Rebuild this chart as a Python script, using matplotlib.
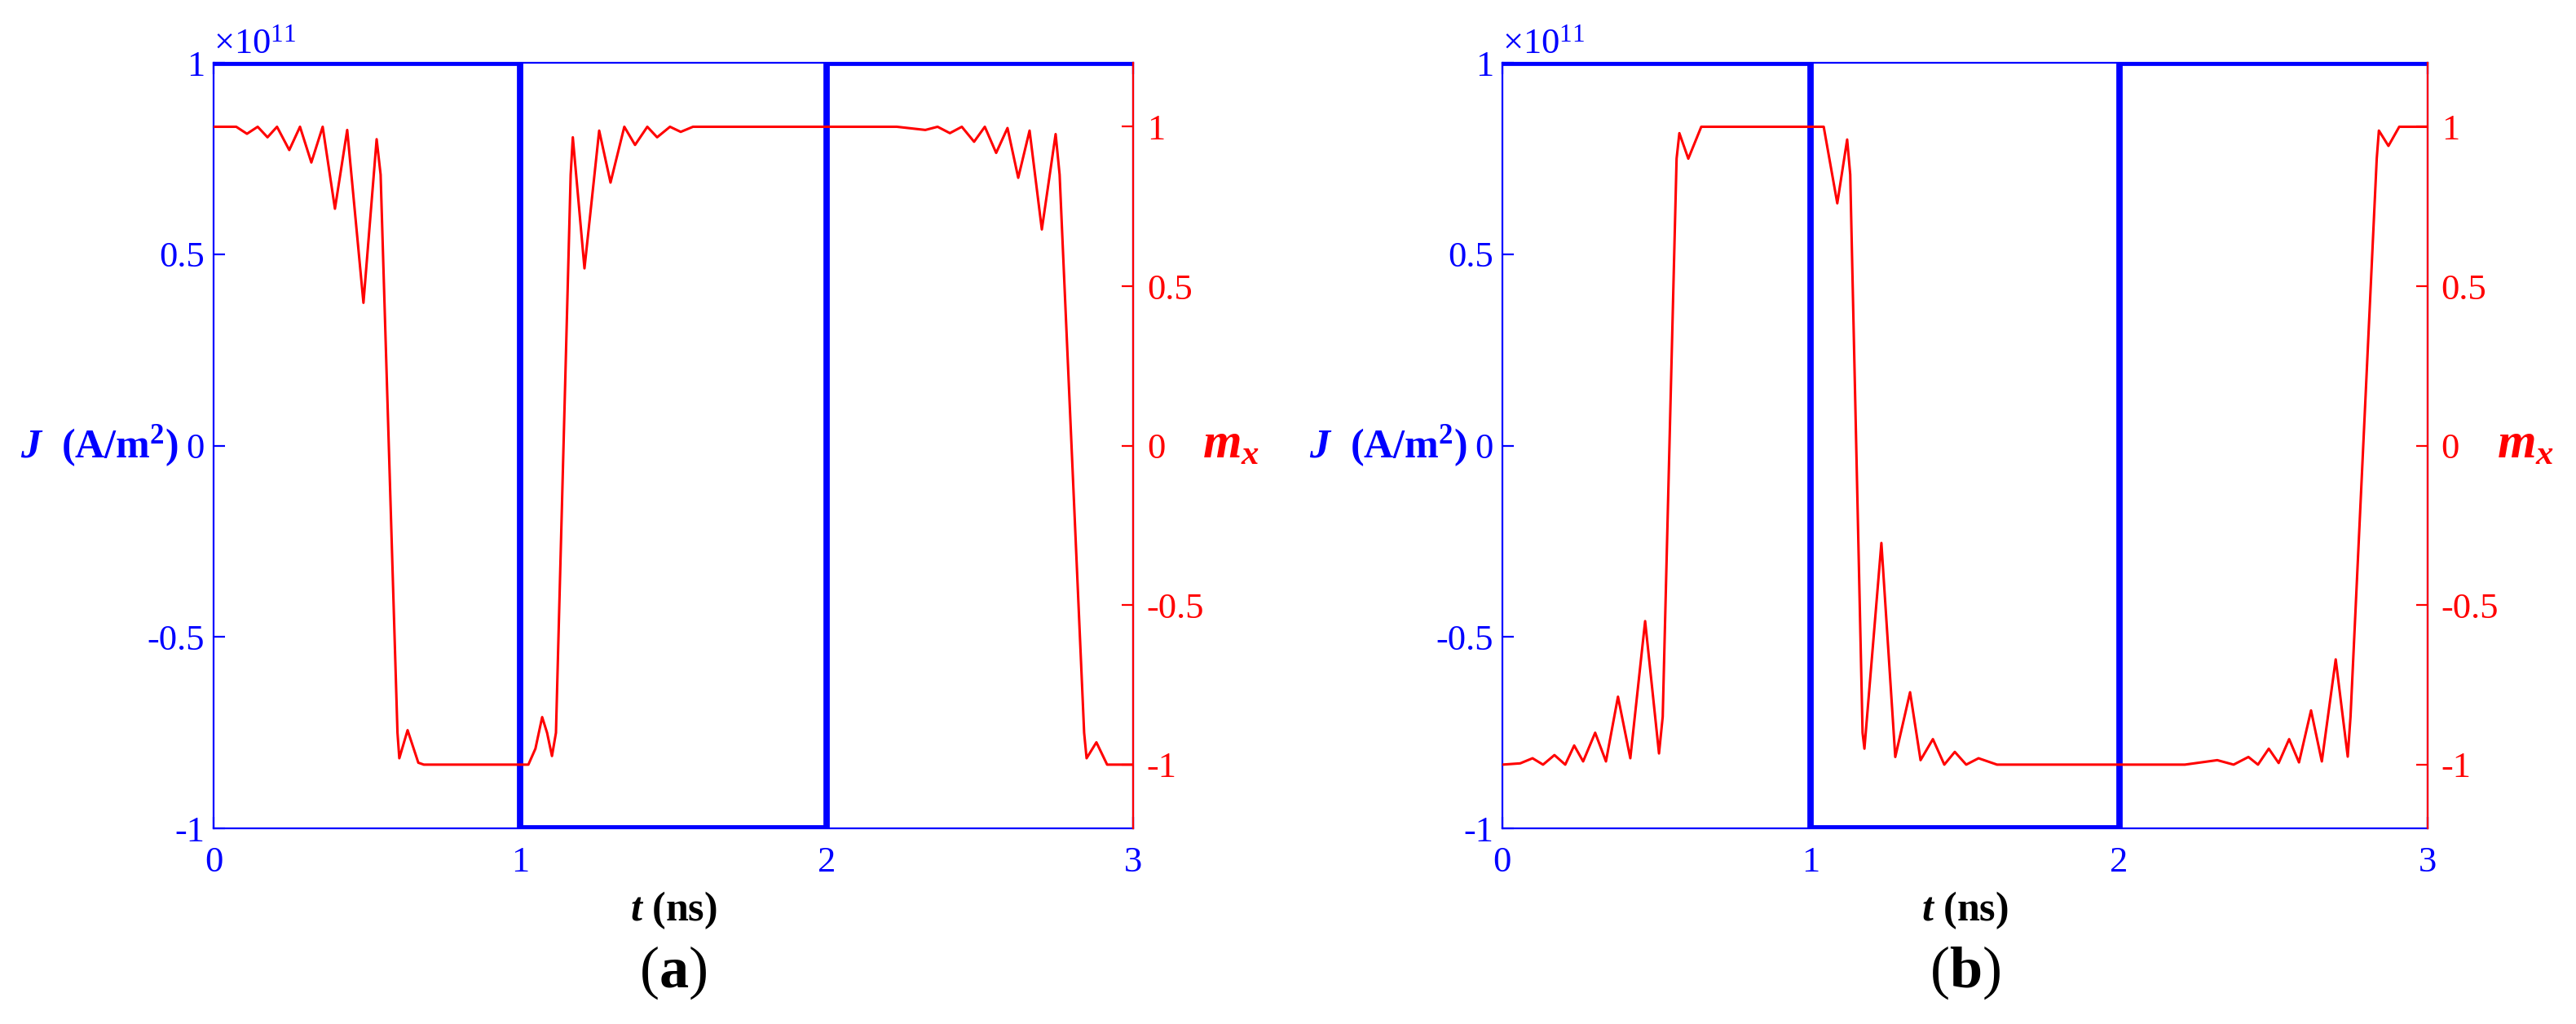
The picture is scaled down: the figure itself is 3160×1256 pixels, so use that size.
import matplotlib
matplotlib.use("Agg")
import matplotlib.pyplot as plt

plt.rcParams['font.family'] = ['Liberation Serif', 'DejaVu Serif']
plt.rcParams['mathtext.fontset'] = 'custom'
plt.rcParams['mathtext.rm'] = 'Liberation Serif'
plt.rcParams['mathtext.it'] = 'Liberation Serif:bold:italic'
plt.rcParams['mathtext.bf'] = 'Liberation Serif:bold'

# current pulse (units of 1e11 A/m^2)
j_t = [0, 1, 1, 2, 2, 3]
j_v = [1, 1, -1, -1, 1, 1]

# panel (a) m_x
a_t = [0, 0.074, 0.109, 0.144, 0.176, 0.207, 0.247, 0.282, 0.319, 0.356, 0.396, 0.436, 0.489,
       0.532, 0.545, 0.600, 0.606, 0.633, 0.668, 0.686, 1.027, 1.050, 1.072, 1.088, 1.104, 1.117,
       1.165, 1.172, 1.210, 1.258, 1.295, 1.340, 1.375, 1.415, 1.447, 1.489, 1.524, 1.564, 2.229,
       2.322, 2.362, 2.402, 2.441, 2.481, 2.516, 2.553, 2.590, 2.625, 2.662, 2.702, 2.747, 2.760,
       2.840, 2.848, 2.880, 2.915, 3.0]
a_m = [1.0, 1.0, 0.978, 1.0, 0.967, 1.0, 0.927, 1.0, 0.888, 1.0, 0.743, 0.99, 0.448,
       0.961, 0.85, -0.9, -0.98, -0.892, -0.994, -1.0, -1.0, -0.95, -0.851, -0.90, -0.973, -0.9,
       0.85, 0.967, 0.556, 0.988, 0.825, 1.0, 0.943, 1.0, 0.967, 1.0, 0.984, 1.0, 1.0,
       0.99, 1.0, 0.98, 1.0, 0.953, 1.0, 0.918, 0.996, 0.84, 0.988, 0.678, 0.977, 0.85,
       -0.9, -0.98, -0.93, -1.0, -1.0]

# panel (b) m_x
b_t = [0, 0.058, 0.098, 0.132, 0.169, 0.204, 0.233, 0.262, 0.301, 0.336, 0.375, 0.415, 0.463,
       0.508, 0.520, 0.565, 0.574, 0.603, 0.645, 1.042, 1.086, 1.118, 1.128, 1.168, 1.174, 1.229,
       1.274, 1.322, 1.356, 1.396, 1.433, 1.467, 1.504, 1.544, 1.604, 2.213, 2.318, 2.371, 2.419,
       2.450, 2.485, 2.517, 2.551, 2.583, 2.622, 2.657, 2.702, 2.741, 2.750, 2.835, 2.842, 2.873,
       2.908, 3.0]
b_m = [-1.0, -0.996, -0.98, -1.0, -0.97, -1.0, -0.94, -0.99, -0.90, -0.99, -0.787, -0.98, -0.55,
       -0.965, -0.85, 0.9, 0.98, 0.90, 1.0, 1.0, 0.76, 0.96, 0.85, -0.9, -0.95, -0.305,
       -0.976, -0.773, -0.986, -0.92, -1.0, -0.96, -1.0, -0.98, -1.0, -1.0, -0.986, -1.0, -0.976,
       -1.0, -0.95, -0.995, -0.92, -0.993, -0.83, -0.99, -0.67, -0.975, -0.85, 0.9, 0.988, 0.94,
       1.0, 1.0]

x_ticks = [0, 1, 2, 3]
j_ticks = [-1, -0.5, 0, 0.5, 1]
j_labels = ['-1', '-0.5', '0', '0.5', '1']
m_ticks = [-1, -0.5, 0, 0.5, 1]
m_labels = ['-1', '-0.5', '0', '0.5', '1']

BLUE = '#0000ff'
RED = '#ff0000'

fig = plt.figure(figsize=(15.8, 6.28), dpi=200)
panels = [(0.0829, 0.357, a_t, a_m, 'a'), (0.5832, 0.3592, b_t, b_m, 'b')]
for left, width, mt, mv, cap in panels:
    ax = fig.add_axes([left, 0.191, width, 0.7475])
    ax.plot(j_t, j_v, color=BLUE, lw=2.8, solid_joinstyle='miter')
    ax.set_xlim(0, 3)
    ax.set_ylim(-1, 1)
    ax.set_xticks(x_ticks)
    ax.set_yticks(j_ticks)
    ax.set_yticklabels(j_labels)
    ax.tick_params(axis='both', direction='in', colors=BLUE, labelsize=16,
                   length=5, width=0.8, top=True, right=True)
    ax.tick_params(axis='x', pad=8)
    ax.tick_params(axis='y', pad=4)
    for s in ax.spines.values():
        s.set_color(BLUE)
        s.set_linewidth(0.8)
    ax2 = ax.twinx()
    ax2.plot(mt, mv, color=RED, lw=1.1)
    ax2.set_ylim(-1.2, 1.2)
    ax2.set_yticks(m_ticks)
    ax2.set_yticklabels(m_labels)
    ax2.tick_params(axis='y', direction='in', colors=RED, labelsize=16, length=5, width=0.8, pad=6)
    ax2.spines['right'].set_color(RED)
    for k in ('left', 'top', 'bottom'):
        ax2.spines[k].set_visible(False)
    ax.text(-0.038, 0.5, r'$J$  (A/m$^\mathbf{2}$)', transform=ax.transAxes,
            ha='right', va='center', color=BLUE, fontsize=18, fontweight='bold')
    ax2.text(1.075, 0.5, r'$m_x$', transform=ax.transAxes,
             ha='left', va='center', color=RED, fontsize=22)
    ax.text(0.0, 1.003, r'$\times\mathrm{10}^{\mathrm{11}}$', transform=ax.transAxes, ha='left',
            va='bottom', color=BLUE, fontsize=16)
    ax.text(0.5, -0.08, r'$t$ (ns)', transform=ax.transAxes, ha='center', va='top',
            fontsize=18, fontweight='bold')
    fig.text(left + width / 2, 0.05, '(' + r'$\mathbf{' + cap + '}$' + ')', ha='center',
             va='center', fontsize=26)

fig.savefig('out.png', dpi=200)
